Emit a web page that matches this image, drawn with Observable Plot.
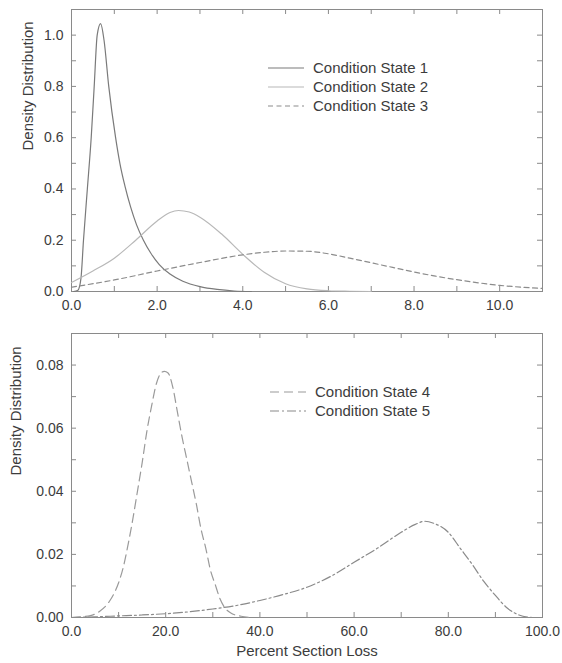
<!DOCTYPE html>
<html><head><meta charset="utf-8">
<script src="https://cdn.jsdelivr.net/npm/d3@7"></script>
<script src="https://cdn.jsdelivr.net/npm/@observablehq/plot@0.6"></script>
<style>
body{margin:0;background:#fff}
#chart svg{display:block}
</style>
</head><body><div id="chart"></div>
<script>
// ---------- data ----------
const topNames = ["Condition State 1", "Condition State 2", "Condition State 3"];
const bottomNames = ["Condition State 4", "Condition State 5"];

const cs1 = [[0.05,0],[0.15,0.005],[0.22,0.05],[0.28,0.2],[0.37,0.4],[0.46,0.6],[0.53,0.8],[0.6,1.0],[0.68,1.045],[0.76,0.98],[0.87,0.8],[1.03,0.6],[1.13,0.5],[1.25,0.41],[1.38,0.33],[1.52,0.26],[1.68,0.2],[1.85,0.15],[2.05,0.105],[2.3,0.068],[2.6,0.04],[3.0,0.019],[3.4,0.008],[3.8,0.002],[4.2,0]];
const cs2 = [[0,0.035],[0.5,0.08],[1.0,0.13],[1.5,0.2],[2.0,0.275],[2.3,0.308],[2.5,0.316],[2.75,0.31],[3.0,0.29],[3.5,0.225],[4.0,0.145],[4.5,0.075],[5.0,0.03],[5.5,0.01],[6.0,0.003],[6.5,0.001],[7.0,0]];
const cs3 = [[0,0.017],[1,0.045],[2,0.08],[3,0.113],[4,0.143],[4.5,0.153],[5.0,0.158],[5.5,0.157],[6.0,0.147],[6.5,0.13],[7.0,0.112],[7.5,0.094],[8.0,0.076],[8.5,0.06],[9.0,0.046],[9.5,0.034],[10.0,0.024],[10.5,0.017],[11.0,0.012]];

const cs4 = [[0,0],[2,0.0002],[4,0.0006],[6,0.002],[8,0.005],[9,0.0075],[10,0.011],[11,0.016],[12,0.023],[13,0.031],[14,0.04],[15,0.049],[16,0.059],[17,0.067],[18,0.074],[19,0.0775],[19.7,0.078],[20.5,0.0775],[21.5,0.073],[22.5,0.065],[23.5,0.057],[24.5,0.05],[25.5,0.043],[26.5,0.036],[27.5,0.028],[28.5,0.022],[29.5,0.015],[30.5,0.0105],[31.5,0.006],[32.5,0.0032],[34,0.0013],[36,0.0004],[38,0]];
const cs5 = [[0,0],[5,0.0002],[10,0.0005],[15,0.0008],[20,0.0012],[25,0.0018],[30,0.0027],[35,0.0038],[40,0.0054],[45,0.0073],[50,0.0096],[55,0.013],[60,0.0175],[65,0.022],[70,0.027],[73,0.0295],[75,0.0305],[77,0.0298],[80,0.027],[82.5,0.022],[85,0.017],[87.5,0.0115],[90,0.007],[92.5,0.003],[95,0.0008],[97,0.0001],[98,0]];

const topXTicks = [0, 2, 4, 6, 8, 10];
const topXMinor = [1, 2, 3, 4, 5, 6, 7, 8, 9, 10];
const topYTicks = [0, 0.2, 0.4, 0.6, 0.8, 1.0];
const topYMinor = [0.1, 0.2, 0.3, 0.4, 0.5, 0.6, 0.7, 0.8, 0.9, 1.0];
const botXTicks = [0, 20, 40, 60, 80, 100];
const botXMinor = [10, 20, 30, 40, 50, 60, 70, 80, 90];
const botYTicks = [0, 0.02, 0.04, 0.06, 0.08];
const botYMinor = [0.01, 0.02, 0.03, 0.04, 0.05, 0.06, 0.07, 0.08];

const yLabel = "Density Distribution";
const xLabel = "Percent Section Loss";

// ---------- drawing ----------
const FONT = "'Liberation Sans', Arial, Helvetica, sans-serif";
const FRAME = "#8a8a8a";
const TEXT = "#3c3c3c";

function panel(o) {
  const innerW = o.width - o.ml - o.mr;
  const innerH = o.height - o.mt - o.mb;
  const tl = 5;
  const marks = [
    Plot.frame({stroke: FRAME}),
    Plot.tickX(o.xMinor, {x: d => d, stroke: FRAME, insetTop: innerH - tl}),
    Plot.tickX(o.xMinor, {x: d => d, stroke: FRAME, insetBottom: innerH - tl}),
    Plot.tickY(o.yMinor, {y: d => d, stroke: FRAME, insetRight: innerW - tl}),
    Plot.tickY(o.yMinor, {y: d => d, stroke: FRAME, insetLeft: innerW - tl}),
    Plot.axisX({ticks: o.xTicks, tickFormat: o.xFormat, tickSize: 0, tickPadding: 9, label: null}),
    Plot.axisY({ticks: o.yTicks, tickFormat: o.yFormat, tickSize: 0, tickPadding: 8, label: null}),
    Plot.text([yLabel], {frameAnchor: "left", dx: o.yLabelDx, rotate: -90, fontSize: 15, fill: TEXT}),
    ...o.series.map(s => Plot.line(s.data, {x: d => d[0], y: d => d[1], stroke: s.stroke, strokeWidth: 1.2, strokeDasharray: s.dash, curve: "monotone-x"}))
  ];
  if (o.xLabel) marks.push(Plot.text([o.xLabel], {frameAnchor: "bottom", lineAnchor: "middle", dy: 34, fontSize: 15, fill: TEXT}));
  const svg = Plot.plot({
    width: o.width, height: o.height,
    marginLeft: o.ml, marginRight: o.mr, marginTop: o.mt, marginBottom: o.mb,
    x: {domain: o.xDomain},
    y: {domain: o.yDomain},
    style: {fontFamily: FONT, fontSize: "14px", color: TEXT, background: "#fff", overflow: "visible"},
    marks
  });
  const g = d3.select(svg).append("g").attr("text-anchor", "start");
  o.legend.forEach((it, i) => {
    const y = o.legendY + i * 19;
    g.append("line").attr("x1", o.legendX).attr("x2", o.legendX + 36).attr("y1", y).attr("y2", y)
      .attr("stroke", it.stroke).attr("stroke-width", 1.2).attr("stroke-dasharray", it.dash || null);
    g.append("text").attr("x", o.legendX + 45).attr("y", y).attr("dy", "0.35em")
      .attr("text-anchor", "start")
      .attr("fill", TEXT).attr("font-family", FONT).attr("font-size", 15).text(it.name);
  });
  return svg;
}

const topSeries = [
  {data: cs1, stroke: "#7a7a7a", dash: null},
  {data: cs2, stroke: "#b8b8b8", dash: null},
  {data: cs3, stroke: "#8c8c8c", dash: "5,3.5"}
];
const botSeries = [
  {data: cs4, stroke: "#9a9a9a", dash: "9,5"},
  {data: cs5, stroke: "#8a8a8a", dash: "9,3,2,3"}
];

const chart = document.getElementById("chart");
chart.append(panel({
  width: 562, height: 315, ml: 71, mr: 20, mt: 9, mb: 24,
  xDomain: [0, 11], yDomain: [0, 1.1],
  xTicks: topXTicks, xMinor: topXMinor, yTicks: topYTicks, yMinor: topYMinor,
  xFormat: d => d.toFixed(1), yFormat: d => d.toFixed(1),
  yLabelDx: -43,
  series: topSeries,
  legend: topSeries.map((s, i) => ({name: topNames[i], stroke: s.stroke, dash: s.dash})),
  legendX: 268, legendY: 68
}));
chart.append(panel({
  width: 562, height: 348, ml: 71, mr: 20, mt: 18, mb: 46,
  xDomain: [0, 100], yDomain: [0, 0.09],
  xTicks: botXTicks, xMinor: botXMinor, yTicks: botYTicks, yMinor: botYMinor,
  xFormat: d => d.toFixed(1), yFormat: d => d.toFixed(2),
  yLabelDx: -55,
  xLabel: xLabel,
  series: botSeries,
  legend: botSeries.map((s, i) => ({name: bottomNames[i], stroke: s.stroke, dash: s.dash})),
  legendX: 270, legendY: 77
}));
</script>
</body></html>
